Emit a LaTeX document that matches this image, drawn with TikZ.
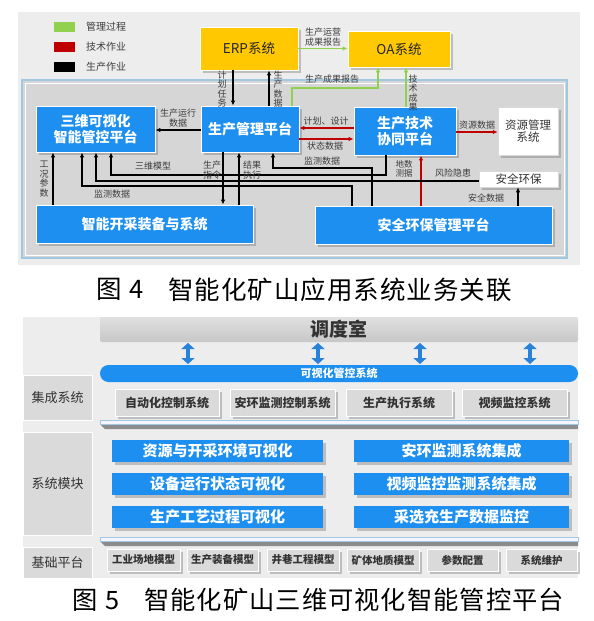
\documentclass[tikz,border=0pt]{standalone}
\usepackage{fontspec}
\setmainfont{Noto Sans CJK SC}
\newfontfamily\capB{Noto Sans CJK SC}[LetterSpace=4]
\usetikzlibrary{arrows.meta,shadows}
\definecolor{cBlue}{RGB}{28,143,240}
\definecolor{cYel}{RGB}{255,200,0}
\definecolor{cGrn}{RGB}{146,208,80}
\definecolor{cRed}{RGB}{192,0,0}
\definecolor{cTxt}{RGB}{60,60,60}
\definecolor{cBg}{RGB}{237,237,237}
\definecolor{cPanel}{RGB}{214,214,214}
\definecolor{cEdge}{RGB}{160,200,225}
\definecolor{cGbox}{RGB}{218,218,218}
\definecolor{cArr}{RGB}{40,130,220}
\newcommand\myfs[1]{\fontsize{#1}{#1}\selectfont}
\tikzset{
  shd/.style={drop shadow={shadow xshift=2.5pt,shadow yshift=-2.5pt,opacity=0.35,fill=black!60}},
  bluebox/.style={shd,fill=cBlue,draw=white,line width=0.8pt,text=white,font=\bfseries\myfs{14}\linespread{1.15}\selectfont,align=center,inner sep=0},
  yelbox/.style={shd,fill=cYel,draw=white,line width=0.8pt,text=black!85,font=\myfs{13.5},inner sep=0},
  whitebox/.style={shd,fill=white,draw=black!15,line width=0.5pt,text=black!80,font=\myfs{11.5}\linespread{1.1}\selectfont,align=center,inner sep=0},
  lbl/.style={font=\myfs{9}\linespread{1.1}\selectfont,text=cTxt,inner sep=0,align=center},
  vlbl/.style={font=\fontsize{9}{9.6}\selectfont,text=cTxt,inner sep=0,align=center},
  blk/.style={draw=black,line width=1.3pt,-{Latex[length=5pt,width=4.5pt]}},
  redarr/.style={draw=cRed,line width=1.3pt,-{Latex[length=5pt,width=4.5pt]}},
  grnarr/.style={draw=cGrn,line width=1.3pt,-{Latex[length=5pt,width=4.5pt]}},
  graybox/.style={shd,fill=cGbox,draw=white,line width=0.8pt,text=black!80,font=\bfseries\myfs{12},inner sep=0},
  modbox/.style={shd,fill=cBlue,draw=none,text=white,font=\bfseries\myfs{15},inner sep=0},
  basebox/.style={shd,fill=cGbox,draw=white,line width=0.8pt,text=black!80,font=\bfseries\myfs{10.5},inner sep=0},
  sidebox/.style={fill=cGbox,draw=white,line width=1pt,text=black!80,font=\myfs{13},inner sep=0},
  dbl/.style={draw=cArr,line width=4pt,{Triangle[width=13pt,length=6pt]}-{Triangle[width=13pt,length=6pt]}},
  captxtA/.style={font=\capB\myfs{25.5},text=black,inner sep=0,anchor=west},
  captxtB/.style={font=\capB\myfs{25.3},text=black,inner sep=0,anchor=west}
}
\begin{document}
\begin{tikzpicture}[x=1pt,y=-1pt]
\useasboundingbox (0,0) rectangle (594,621);
\fill[white] (0,0) rectangle (594,621);
% ================= Figure 4 =================
\fill[cBg] (18,12) rectangle (580,265);
\filldraw[fill=cPanel,draw=cEdge,line width=1.8pt] (22,80) rectangle (567,258);
\draw[white,line width=0.8pt] (25,83) rectangle (564,255);
% legend
\fill[cGrn] (54,22) rectangle (75,32);
\fill[cRed] (54,42) rectangle (75,52);
\fill[black] (54,62) rectangle (75,72);
\node[lbl,anchor=west,font=\myfs{10}] (lg1) at (86,27) {管理过程};
\node[lbl,anchor=west,font=\myfs{10}] (lg2) at (86,47) {技术作业};
\node[lbl,anchor=west,font=\myfs{10}] (lg3) at (86,67) {生产作业};
% nodes
\node[yelbox,minimum width=98,minimum height=43] (erp) at (249,48.5) {ERP系统};
\node[yelbox,minimum width=102,minimum height=36] (oa) at (399,49) {OA系统};
\node[bluebox,minimum width=98,minimum height=46] (pm) at (250,129) {生产管理平台};
\node[bluebox,minimum width=102,minimum height=48] (tech) at (405,131) {生产技术\\协同平台};
\node[whitebox,minimum width=60,minimum height=48] (res) at (528,131) {资源管理\\系统};
\node[bluebox,minimum width=119,minimum height=46] (viz) at (95.5,129) {三维可视化\\智能管控平台};
\node[bluebox,minimum width=217,minimum height=38] (mine) at (144.5,224) {智能开采装备与系统};
\node[bluebox,minimum width=237,minimum height=38] (sp) at (433.5,225) {安全环保管理平台};
\node[whitebox,minimum width=79,minimum height=16] (safe) at (518.5,179) {安全环保};
% helper coordinates
\coordinate (xg1) at (292,88);
\coordinate (xg2) at (378,0);
\coordinate (xg3) at (406,0);
\coordinate (x233) at (233,0);
\coordinate (x269) at (269,0);
\coordinate (y130) at (0,130);
\coordinate (y128) at (0,128);
\coordinate (y139) at (0,139);
\coordinate (y132) at (0,132);
\coordinate (x53) at (53,0);
\coordinate (c186) at (352,186);
\coordinate (x82) at (82,0);
\coordinate (y181) at (0,181);
\coordinate (x96) at (96,0);
\coordinate (c175) at (386,175);
\coordinate (x111) at (111,0);
\coordinate (c168) at (372,168);
\coordinate (x273) at (273,0);
\coordinate (x223) at (223,0);
\coordinate (x239) at (239,0);
\coordinate (x421) at (421,0);
\coordinate (x518) at (518,0);
% green
\draw[grnarr] (erp.east) -- (erp.east -| oa.west);
\node[lbl] (l1) at (323,37) {生产运营\\成果报告};
\draw[grnarr] (pm.north -| xg1) -- (xg1) -| (oa.south -| xg2);
\node[lbl] (l2) at (332,79) {生产成果报告};
\draw[grnarr] (tech.north -| xg3) -- (oa.south -| xg3);
\node[vlbl] (l3) at (413,93) {技\\术\\成\\果};
% black top
\draw[blk] (erp.south -| x233) -- (pm.north -| x233);
\node[vlbl] (l4) at (222,89) {计\\划\\任\\务};
\draw[blk] (pm.north -| x269) -- (erp.south -| x269);
\node[vlbl] (l5) at (278,89) {生\\产\\数\\据};
\draw[blk] (pm.west |- y130) -- (viz.east |- y130);
\node[lbl] (l6) at (178,118) {生产运行\\数据};
% red
\draw[redarr] (tech.west |- y128) -- (pm.east |- y128);
\node[lbl] (l7) at (326,121) {计划、设计};
\draw[redarr] (pm.east |- y139) -- (tech.west |- y139);
\node[lbl] (l8) at (325,146) {状态数据};
\draw[redarr] (tech.east |- y132) -- (res.west |- y132);
\node[lbl] (l9) at (477,125) {资源数据};
\draw[redarr] (sp.north -| x421) -- (tech.south -| x421);
\node[lbl,font=\fontsize{8.5}{9}\selectfont] (l10) at (404,169) {地数\\测据};
% black lower
\draw[blk] (mine.north -| x53) -- (viz.south -| x53);
\node[vlbl] (l11) at (44,179) {工\\况\\参\\数};
\draw[blk] (sp.north -| c186) -- (c186) -| (viz.south -| x82);
\node[lbl] (l12) at (112,194) {监测数据};
\draw[blk] (safe.west |- y181) -| (viz.south -| x96);
\node[lbl] (l13) at (453,173) {风险隐患};
\draw[blk] (tech.south -| c175) -- (c175) -| (viz.south -| x111);
\node[lbl] (l14) at (153,166) {三维模型};
\draw[blk] (sp.north -| c168) -- (c168) -| (pm.south -| x273);
\node[lbl] (l15) at (322,161) {监测数据};
\draw[blk] (pm.south -| x223) -- (mine.north -| x223);
\node[lbl] (l16) at (212,170) {生产\\指令};
\draw[blk] (mine.north -| x239) -- (pm.south -| x239);
\node[lbl] (l17) at (252,170) {结果\\执行};
\draw[blk] (sp.north -| x518) -- (safe.south -| x518);
\node[lbl] (l18) at (486,198) {安全数据};
% caption 4
\node[captxtA] (cap4a) at (96,289.5) {图\hspace{0.3em}4};
\node[captxtA] (cap4b) at (168,289.5) {智能化矿山应用系统业务关联};
% ================= Figure 5 =================
\fill[cBg] (23,317) rectangle (578,578);
\node[sidebox,minimum width=69,minimum height=45] (s1) at (57.5,397.5) {集成系统};
\node[sidebox,minimum width=69,minimum height=103] (s2) at (57.5,483.5) {系统模块};
\node[sidebox,minimum width=69,minimum height=31] (s3) at (57.5,562.5) {基础平台};
\shade[top color=black!12,bottom color=black!22,rounded corners=2pt] (100,317) rectangle (578,342);
\node[font=\bfseries\myfs{19},text=black!80,inner sep=0] (disp) at (339,329.5) {调度室};
\coordinate (dtop) at (0,343);
\coordinate (dbot) at (0,364);
\coordinate (a1) at (188,0);
\coordinate (a2) at (318,0);
\coordinate (a3) at (420,0);
\coordinate (a4) at (530,0);
\draw[dbl] (a1 |- dtop) -- (a1 |- dbot);
\draw[dbl] (a2 |- dtop) -- (a2 |- dbot);
\draw[dbl] (a3 |- dtop) -- (a3 |- dbot);
\draw[dbl] (a4 |- dtop) -- (a4 |- dbot);
\node[fill=cBlue,rounded corners=8.5pt,minimum width=478,minimum height=17,inner sep=0,text=white,font=\bfseries\myfs{11}] (vbar) at (339,373.5) {可视化管控系统};
\node[graybox,minimum width=104,minimum height=27] (g1) at (167,402.5) {自动化控制系统};
\node[graybox,minimum width=105,minimum height=27] (g2) at (282.5,402.5) {安环监测控制系统};
\node[graybox,minimum width=106,minimum height=27] (g3) at (399,402.5) {生产执行系统};
\node[graybox,minimum width=105,minimum height=27] (g4) at (514.5,402.5) {视频监控系统};
% separator 1
\fill[black!45] (100,424) -- (578,424) -- (578,429) -- (105,429) -- cycle;
\filldraw[fill=blue!4,draw=cEdge,line width=0.8pt] (100,420) rectangle (578,424);
% modules
\node[modbox,minimum width=211,minimum height=22] (m1) at (217.5,451) {资源与开采环境可视化};
\node[modbox,minimum width=211,minimum height=22] (m2) at (217.5,484) {设备运行状态可视化};
\node[modbox,minimum width=211,minimum height=22] (m3) at (217.5,517) {生产工艺过程可视化};
\node[modbox,minimum width=215,minimum height=22] (m4) at (461.5,451) {安环监测系统集成};
\node[modbox,minimum width=215,minimum height=22] (m5) at (461.5,484) {视频监控监测系统集成};
\node[modbox,minimum width=215,minimum height=22] (m6) at (461.5,517) {采选充生产数据监控};
% separator 2
\fill[black!45] (100,541) -- (578,541) -- (578,546) -- (105,546) -- cycle;
\filldraw[fill=blue!4,draw=cEdge,line width=0.8pt] (100,537) rectangle (578,541);
% base
\node[basebox,minimum width=73,minimum height=22] (b1) at (143.5,560) {工业场地模型};
\node[basebox,minimum width=71,minimum height=22] (b2) at (222.5,560) {生产装备模型};
\node[basebox,minimum width=72,minimum height=22] (b3) at (303,560) {井巷工程模型};
\node[basebox,minimum width=72,minimum height=22] (b4) at (383,560) {矿体地质模型};
\node[basebox,minimum width=71,minimum height=22] (b5) at (462.5,560) {参数配置};
\node[basebox,minimum width=71,minimum height=22] (b6) at (541.5,560) {系统维护};
% caption 5
\node[captxtB] (cap5a) at (72,600) {图\hspace{0.3em}5};
\node[captxtB] (cap5b) at (144,600) {智能化矿山三维可视化智能管控平台};
\end{tikzpicture}
\end{document}
